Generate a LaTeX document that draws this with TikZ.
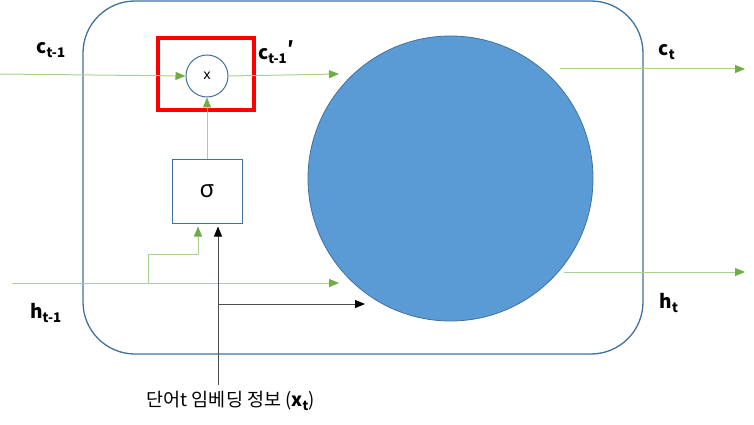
\documentclass[tikz,border=0pt]{standalone}
\usepackage{fontspec}
\setmainfont{Noto Sans}
\newfontfamily\kofont{Noto Sans CJK KR}
\usetikzlibrary{positioning,arrows.meta}
\definecolor{cellblue}{HTML}{41719C}
\definecolor{gatefill}{HTML}{5B9BD5}
\definecolor{linegreen}{HTML}{A9D18E}
\definecolor{tipgreen}{HTML}{70AD47}

\begin{document}
\begin{tikzpicture}[x=1pt,y=-1pt,
  cell/.style={draw=cellblue,line width=1.3pt,rounded corners=52pt,minimum width=560pt,minimum height=353pt},
  gate/.style={circle,draw=cellblue,line width=0.8pt,fill=gatefill,minimum size=285pt,inner sep=0pt},
  mulop/.style={circle,draw=cellblue,line width=1pt,minimum size=42pt,inner sep=0pt,font=\fontsize{14}{14}\selectfont},
  sigbox/.style={draw=cellblue,line width=1pt,minimum width=70pt,minimum height=64pt,font=\fontsize{24}{24}\selectfont},
  hilite/.style={draw=red,line width=4pt,minimum width=96pt,minimum height=72pt},
  vlbl/.style={font=\kofont\fontsize{19}{19}\selectfont\bfseries,inner sep=0pt},
  gflow/.style={draw=linegreen,line width=1pt,-{Triangle[length=10pt,width=8pt,color=tipgreen]}},
  kflow/.style={draw=black!70,line width=1pt,-{Triangle[length=10pt,width=8pt,color=black]}},
]
\useasboundingbox (0,0) rectangle (754,425);

\node[cell] (cell) at (363,177.5) {};
\node[gate] (gate) at (450.5,178.5) {};
\node[hilite] (hilite) at (206,74) {};
\node[mulop] (mul) at (207,76) {x};
\node[sigbox] (sig) at (207,191) {σ};

% cell state
\coordinate (cin) at (0,74);
\coordinate (cmid) at (339,74);
\draw[gflow] (cin) -- (mul.west);
\draw[gflow] (mul.east) -- (cmid);
\draw[gflow] (sig.north) -- (mul.south);

% hidden state
\coordinate (hin) at (12,283);
\coordinate (hsplit) at (148,283);
\coordinate (hend) at (339,283);
\draw[gflow] (hin) -- (hend);
\draw[gflow,shorten >=3pt] (hsplit) |- (148,254) -| ([xshift=-9pt]sig.south);

% word input
\node[font=\kofont\fontsize{18.5}{18.5}\selectfont] (xtext) at (231,401) {단어t 임베딩 정보 (\textbf{x\textsubscript{t}})};
\coordinate (xin) at (218,385);
\coordinate (xsplit) at (218,304);
\coordinate (xend) at (365,304);
\draw[kflow,shorten >=3pt] (xin) -- (xin |- sig.south);
\draw[kflow] (xsplit) -- (xend);

% outputs
\coordinate (cstart) at (560,69);
\coordinate (cout) at (745,69);
\coordinate (hstart) at (564,272);
\coordinate (hout) at (745,272);
\draw[gflow] (cstart) -- (cout);
\draw[gflow] (hstart) -- (hout);

\node[vlbl] (cprev) at (51,50) {c\textsubscript{t-1}};
\node[vlbl] (cprime) at (276,52) {c\textsubscript{t-1}\raisebox{4pt}{′}};
\node[vlbl] (hprev) at (46,313) {h\textsubscript{t-1}};
\node[vlbl] (cnext) at (667,52) {c\textsubscript{t}};
\node[vlbl] (hnext) at (669,303) {h\textsubscript{t}};
\end{tikzpicture}
\end{document}
